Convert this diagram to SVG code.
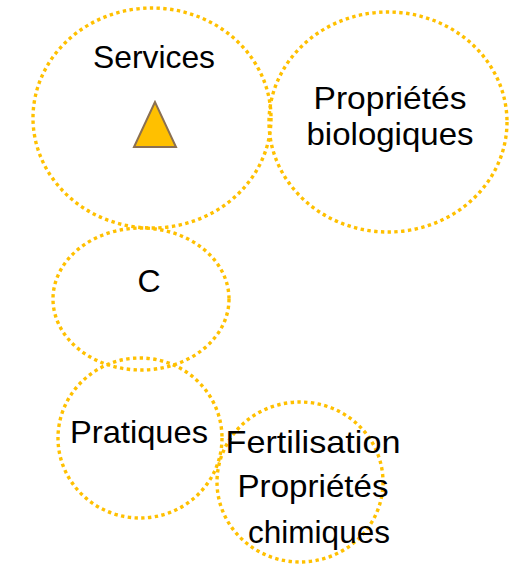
<svg xmlns="http://www.w3.org/2000/svg" width="521" height="565" viewBox="0 0 521 565">
<style>
.c{fill:none;stroke:#FFC000;stroke-width:3.4;stroke-dasharray:3.4 3.4}
.t{font-family:"Liberation Sans","Open Sans",sans-serif;font-size:32px;fill:#000;text-anchor:middle}
</style>
<rect width="521" height="565" fill="#fff"/>
<g id="services">
<ellipse class="c" cx="152" cy="118" rx="119" ry="110"/>
<text class="t" x="154" y="68" textLength="122" lengthAdjust="spacingAndGlyphs">Services</text>
<polygon points="155,102 134,147 176,147" fill="#FFC000" stroke="#8B7052" stroke-width="2"/>
</g>
<g id="bio">
<ellipse class="c" cx="388" cy="122" rx="119" ry="110"/>
<text class="t"><tspan x="390" y="109" textLength="153" lengthAdjust="spacingAndGlyphs">Propriétés</tspan><tspan x="390" y="145" textLength="167" lengthAdjust="spacingAndGlyphs">biologiques</tspan></text>
</g>
<g id="c">
<ellipse class="c" cx="141" cy="299" rx="88" ry="71"/>
<text class="t" x="149" y="292">C</text>
</g>
<g id="pratiques">
<ellipse class="c" cx="140" cy="438" rx="82" ry="80"/>
<text class="t" x="139" y="443" textLength="138" lengthAdjust="spacingAndGlyphs">Pratiques</text>
</g>
<g id="fertilisation">
<ellipse class="c" cx="300" cy="482" rx="83" ry="80"/>
<text class="t"><tspan x="313" y="453" textLength="175" lengthAdjust="spacingAndGlyphs">Fertilisation</tspan><tspan x="313" y="497" textLength="151" lengthAdjust="spacingAndGlyphs">Propriétés</tspan><tspan x="319" y="543" textLength="142" lengthAdjust="spacingAndGlyphs">chimiques</tspan></text>
</g>
<g id="connectors"/>
</svg>
